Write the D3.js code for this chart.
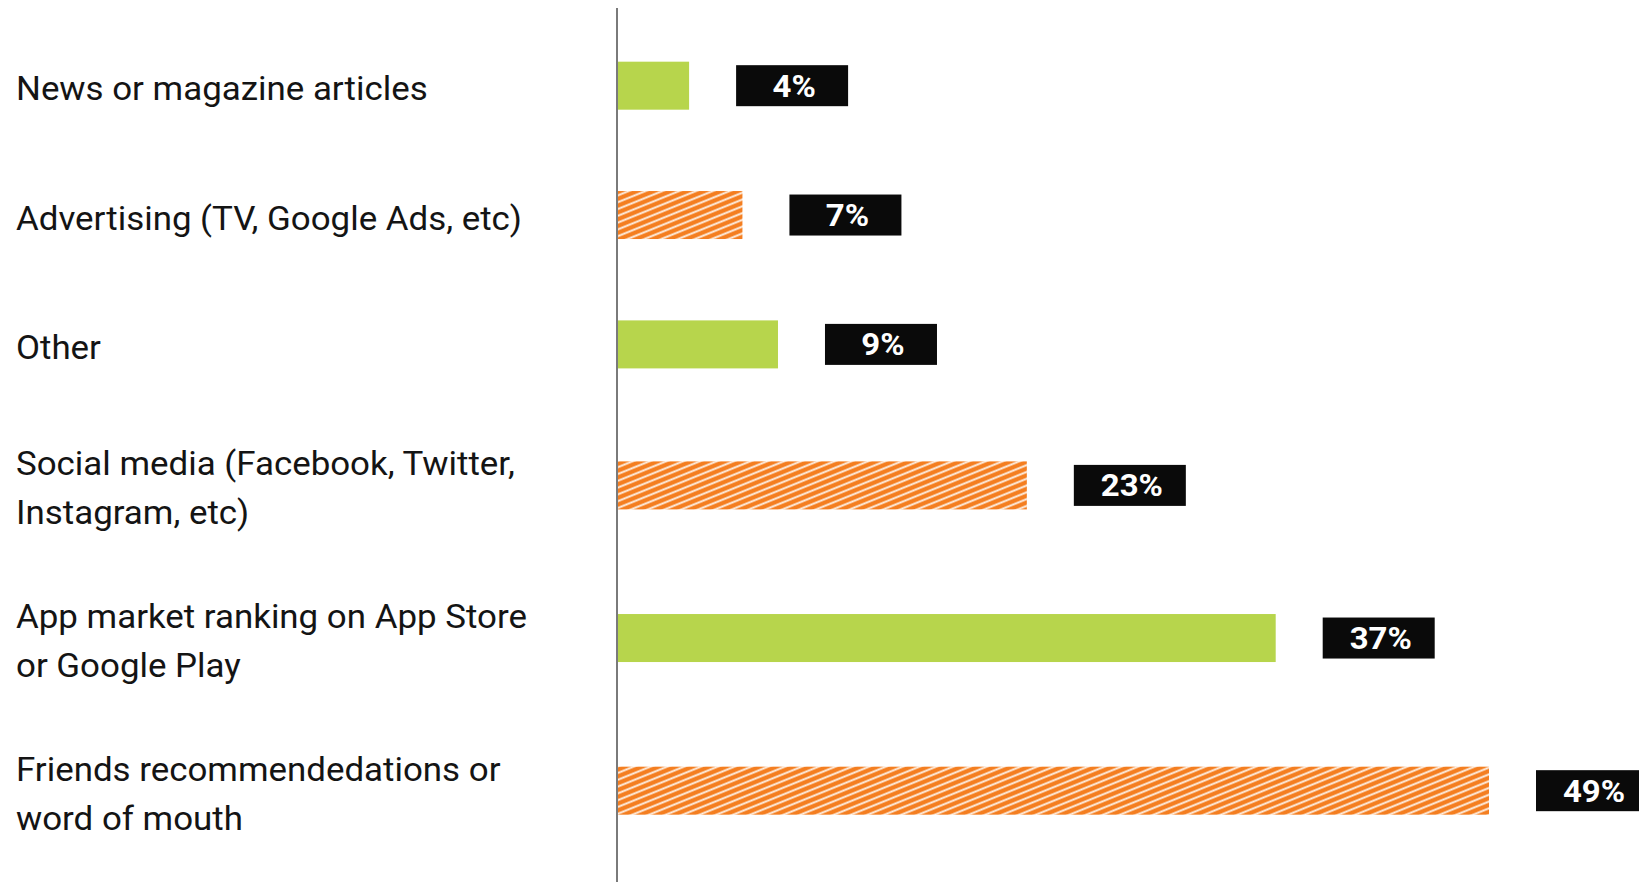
<!DOCTYPE html>
<html>
<head>
<meta charset="utf-8">
<title>How users discover apps</title>
<script src="https://cdn.jsdelivr.net/npm/d3@7"></script>
<style>
  html, body { margin: 0; padding: 0; background: #ffffff; }
  svg { display: block; }
  .cat-label { font-family: Roboto, "Noto Sans", sans-serif; font-size: 32.3px; fill: #141414; }
  .val-label { font-family: Roboto, "Noto Sans", sans-serif; font-size: 30.5px; font-weight: 700; fill: #ffffff; }
</style>
</head>
<body>
<svg id="chart"></svg>
<script>
// Discovery channels, top to bottom
const categories = [
  "News or magazine articles",
  "Advertising (TV, Google Ads, etc)",
  "Other",
  "Social media (Facebook, Twitter, Instagram, etc)",
  "App market ranking on App Store or Google Play",
  "Friends recommendedations or word of mouth"
];
// Label text broken into display lines
const labelLines = [
  ["News or magazine articles"],
  ["Advertising (TV, Google Ads, etc)"],
  ["Other"],
  ["Social media (Facebook, Twitter,", "Instagram, etc)"],
  ["App market ranking on App Store", "or Google Play"],
  ["Friends recommendedations or", "word of mouth"]
];
// Share of respondents, percent
const values = [4, 7, 9, 23, 37, 49];
// Alternating fill style per bar
const fillStyles = ["solid", "hatch", "solid", "hatch", "solid", "hatch"];

const W = 1639, H = 882;
const GREEN = "#b7d54c", ORANGE = "#f47e20";

const svg = d3.select("#chart").attr("width", W).attr("height", H);

// Diagonal white stripes over orange
const defs = svg.append("defs");
const pat = defs.append("pattern")
  .attr("id", "hatch")
  .attr("patternUnits", "userSpaceOnUse")
  .attr("width", 6.3).attr("height", 6.3)
  .attr("patternTransform", "rotate(-22)");
pat.append("rect").attr("width", 6.3).attr("height", 6.3).attr("fill", ORANGE);
pat.append("line")
  .attr("x1", 0).attr("y1", 3.15).attr("x2", 6.3).attr("y2", 3.15)
  .attr("stroke", "#fdf1e6").attr("stroke-width", 1.9);

const x = d3.scaleLinear().domain([0, 49]).range([618, 1489]);

// Rows with two-line labels get a taller slot than single-line rows
const rowWeight = labelLines.map(l => 1 + 0.18 * (l.length - 1));
const cum = d3.cumsum(rowWeight);
const totalWeight = cum[cum.length - 1];
const yPos = d3.scaleLinear().domain([0, totalWeight]).range([21, 867]);
const yCenter = i => yPos(cum[i] - rowWeight[i] / 2);
const barH = 48;

const rows = categories.map((c, i) => ({
  cat: c, i, lines: labelLines[i], value: values[i], style: fillStyles[i], cy: yCenter(i)
}));

// Bars
svg.append("g").selectAll("rect")
  .data(rows).join("rect")
  .attr("x", x(0))
  .attr("y", d => d.cy - barH / 2)
  .attr("width", d => x(d.value) - x(0))
  .attr("height", barH)
  .attr("fill", d => d.style === "hatch" ? "url(#hatch)" : GREEN);

// Baseline axis
svg.append("line")
  .attr("x1", x(0) - 1).attr("x2", x(0) - 1)
  .attr("y1", 8).attr("y2", H)
  .attr("stroke", "#7a7a7a").attr("stroke-width", 2);

// Category labels (slightly widened type)
const lineGap = 49, labelDrop = 3;
const labels = svg.append("g").selectAll("text")
  .data(rows).join("text")
  .attr("class", "cat-label")
  .attr("transform", d => `translate(16,${d.cy + labelDrop - (d.lines.length - 1) * lineGap / 2}) scale(1.08,1)`)
  .attr("dominant-baseline", "central");
labels.selectAll("tspan")
  .data(d => d.lines.map((t, k) => ({ t, k })))
  .join("tspan")
  .attr("x", 0)
  .attr("dy", d => d.k === 0 ? 0 : lineGap)
  .text(d => d.t);

// Value tags
const boxW = 112, boxH = 41, gap = 47;
const tags = svg.append("g").selectAll("g")
  .data(rows).join("g")
  .attr("transform", d => `translate(${x(d.value) + gap},${d.cy - boxH / 2})`);
tags.append("rect")
  .attr("width", boxW).attr("height", boxH)
  .attr("fill", "#0a0a0a");
tags.append("text")
  .attr("class", "val-label")
  .attr("transform", `translate(${boxW / 2 + 2},${boxH / 2 + 1}) scale(1.08,1)`)
  .attr("text-anchor", "middle")
  .attr("dominant-baseline", "central")
  .text(d => d.value + "%");
</script>
</body>
</html>
